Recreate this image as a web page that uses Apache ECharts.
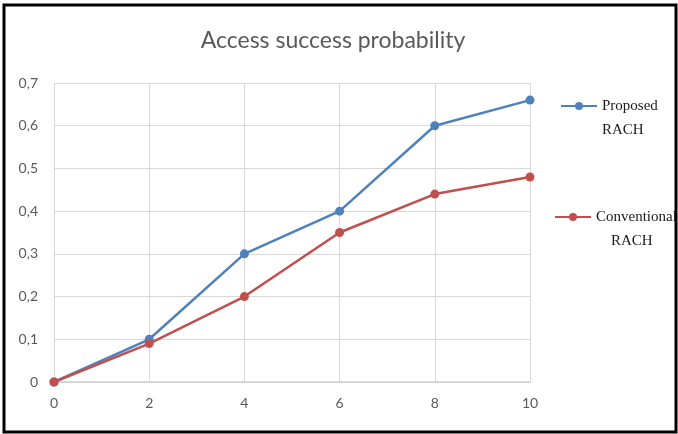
<!DOCTYPE html>
<html>
<head>
<meta charset="utf-8">
<script src="https://cdn.jsdelivr.net/npm/echarts@6/dist/echarts.min.js"></script>
<style>
html,body{margin:0;padding:0;background:#fff;}
#c{width:678px;height:434px;}
</style>
</head>
<body>
<div id="c"></div>
<script>
const xValues = [0, 2, 4, 6, 8, 10];
const proposed = [0, 0.10, 0.30, 0.40, 0.60, 0.66];
const conventional = [0, 0.09, 0.20, 0.35, 0.44, 0.48];
const yTickLabels = ['0', '0,1', '0,2', '0,3', '0,4', '0,5', '0,6', '0,7'];
const seriesNames = ['Proposed RACH', 'Conventional RACH'];

const chart = echarts.init(document.getElementById('c'));
const legendText = {
  fontFamily: 'Liberation Serif',
  fontSize: 15,
  color: '#1a1a1a',
  lineHeight: 24
};
chart.setOption({
  animation: false,
  backgroundColor: '#fff',
  title: {
    text: 'Access success probability',
    left: 328,
    textAlign: 'center',
    top: 24,
    textStyle: { fontFamily: 'Lato', fontWeight: 'normal', fontSize: 23, color: '#595959' }
  },
  legend: [
    {
      data: [seriesNames[0]],
      left: 555, top: 65,
      itemWidth: 36, itemHeight: 10, itemGap: 6,
      formatter: () => '\nProposed\nRACH',
      textStyle: legendText
    },
    {
      data: [seriesNames[1]],
      left: 549, top: 176,
      itemWidth: 36, itemHeight: 10, itemGap: 4,
      formatter: () => '\nConventional\n    RACH',
      textStyle: legendText
    }
  ],
  grid: { left: 54, right: 148, top: 83, bottom: 52, containLabel: false },
  xAxis: {
    type: 'value', min: 0, max: 10, interval: 2,
    axisLine: { show: true, lineStyle: { color: '#d0d0d0', width: 1.5 } },
    axisTick: { show: false },
    axisLabel: { margin: 14, fontFamily: 'Lato', fontSize: 14, color: '#595959' },
    splitLine: { show: true, lineStyle: { color: '#d9d9d9' } }
  },
  yAxis: {
    type: 'value', min: 0, max: 0.7, interval: 0.1,
    axisLine: { show: false },
    axisTick: { show: false },
    axisLabel: {
      margin: 16, fontFamily: 'Lato', fontSize: 14, color: '#595959',
      formatter: v => yTickLabels[Math.round(v * 10)]
    },
    splitLine: { show: true, lineStyle: { color: '#d9d9d9' } }
  },
  series: [
    {
      name: seriesNames[0], type: 'line',
      data: xValues.map((x, i) => [x, proposed[i]]),
      symbol: 'circle', symbolSize: 9,
      lineStyle: { width: 2.5, color: '#4f81bd' },
      itemStyle: { color: '#4f81bd' }
    },
    {
      name: seriesNames[1], type: 'line',
      data: xValues.map((x, i) => [x, conventional[i]]),
      symbol: 'circle', symbolSize: 9,
      lineStyle: { width: 2.5, color: '#c0504d' },
      itemStyle: { color: '#c0504d' }
    }
  ],
  graphic: [{
    type: 'rect', silent: true, z: 100,
    shape: { x: 4, y: 5, width: 672, height: 427 },
    style: { fill: 'none', stroke: '#000', lineWidth: 3 }
  }]
});
</script>
</body>
</html>
